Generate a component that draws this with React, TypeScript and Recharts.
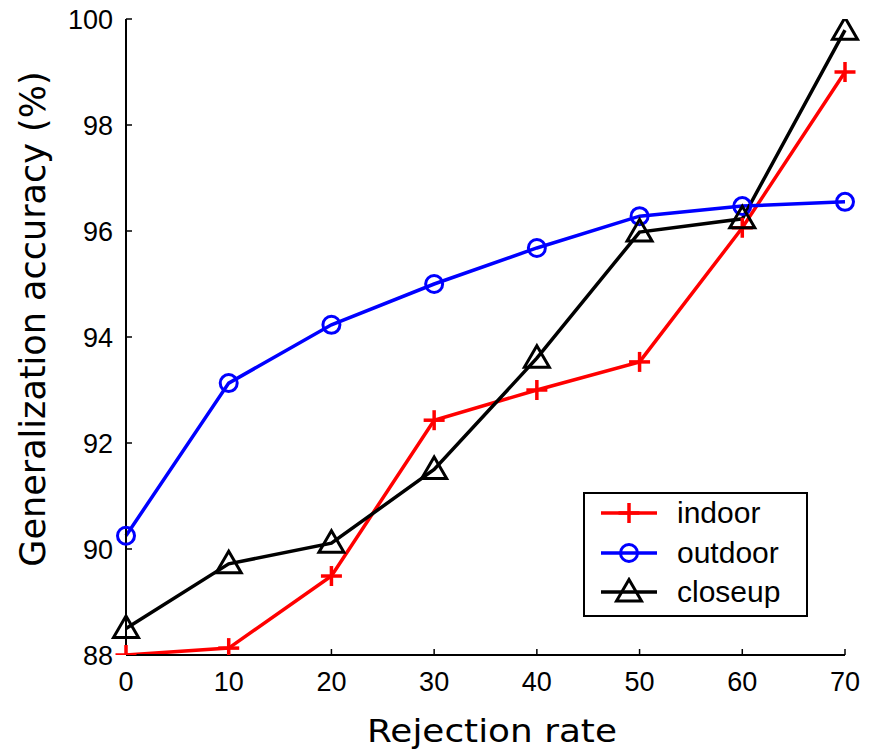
import React from 'react';
import { LineChart, Line, XAxis, YAxis, Legend } from 'recharts';

const rejectionRates = [0, 10, 20, 30, 40, 50, 60, 70];
const indoor = [88.0, 88.13, 89.49, 92.43, 93.0, 93.53, 96.06, 99.0];
const outdoor = [90.25, 93.13, 94.23, 95.0, 95.68, 96.28, 96.47, 96.55];
const closeup = [88.5, 89.72, 90.11, 91.5, 93.6, 95.98, 96.23, 99.79];
const xTicks = [0, 10, 20, 30, 40, 50, 60, 70];
const yTicks = [88, 90, 92, 94, 96, 98, 100];
const seriesNames = ['indoor', 'outdoor', 'closeup'];
const seriesColors = ['#ff0000', '#0000ff', '#000000'];
const xTitle = 'Rejection rate';
const yTitle = 'Generalization accuracy (%)';

const data = rejectionRates.map((r, i) => ({
  rate: r,
  indoor: indoor[i],
  outdoor: outdoor[i],
  closeup: closeup[i],
}));

const TICK_FONT = '"Liberation Sans", Arial, Helvetica, sans-serif';
const LABEL_FONT = '"DejaVu Sans", sans-serif';

const PlusMark = ({ cx, cy, color }: any) => (
  <g>
    <line x1={cx - 10.5} y1={cy} x2={cx + 10.5} y2={cy} stroke={color} strokeWidth={3.5} />
    <line x1={cx} y1={cy - 10} x2={cx} y2={cy + 10} stroke={color} strokeWidth={3.5} />
  </g>
);
const CircleMark = ({ cx, cy, color }: any) => (
  <circle cx={cx} cy={cy} r={8.5} fill="none" stroke={color} strokeWidth={3} />
);
const TriMark = ({ cx, cy, color }: any) => (
  <polygon
    points={`${cx},${cy - 12.5} ${cx - 12.5},${cy + 9} ${cx + 12.5},${cy + 9}`}
    fill="none"
    stroke={color}
    strokeWidth={3}
    strokeLinejoin="miter"
  />
);

const markers = [PlusMark, CircleMark, TriMark];

const makeDot = (idx: number) => (props: any) => {
  const M = markers[idx];
  if (props.cx == null || props.cy == null) return <g key={`${seriesNames[idx]}-${props.index}`} />;
  return (
    <g key={`${seriesNames[idx]}-${props.index}`}>
      <M cx={props.cx} cy={props.cy} color={seriesColors[idx]} />
    </g>
  );
};

const LegendBox = () => (
  <div
    style={{
      position: 'relative',
      width: 225,
      height: 125,
      border: '2px solid #000',
      boxSizing: 'border-box',
      background: '#fff',
    }}
  >
    {seriesNames.map((name, i) => {
      const M = markers[i];
      const cy = 19 + i * 39.5;
      return (
        <div key={name}>
          <svg
            width={80}
            height={30}
            style={{ position: 'absolute', left: 10, top: cy - 15 }}
          >
            <line x1={6} y1={15} x2={62} y2={15} stroke={seriesColors[i]} strokeWidth={3.5} />
            <M cx={34} cy={15} color={seriesColors[i]} />
          </svg>
          <div
            style={{
              position: 'absolute',
              left: 92,
              top: cy - 18,
              height: 36,
              lineHeight: '36px',
              fontFamily: TICK_FONT,
              fontSize: 30,
              color: '#000',
              whiteSpace: 'nowrap',
            }}
          >
            {name}
          </div>
        </div>
      );
    })}
  </div>
);

export default function App() {
  return (
    <div style={{ position: 'absolute', left: 0, top: 0, width: 877, height: 750, background: '#fff' }}>
      <LineChart
        width={877}
        height={750}
        data={data}
        margin={{ top: 19, right: 32, bottom: 35, left: 66 }}
      >
        <XAxis
          dataKey="rate"
          type="number"
          domain={[0, 70]}
          ticks={xTicks}
          height={60}
          axisLine={{ stroke: '#000', strokeWidth: 2 }}
          tickLine={{ stroke: '#000', strokeWidth: 1.5 }}
          tickSize={-6}
          tickMargin={23}
          tick={{ fill: '#000', fontSize: 27, fontFamily: TICK_FONT }}
          interval={0}
        />
        <XAxis
          xAxisId="top"
          dataKey="rate"
          type="number"
          orientation="top"
          domain={[0, 70]}
          ticks={xTicks}
          height={0}
          axisLine={{ stroke: '#000', strokeWidth: 2 }}
          tickLine={{ stroke: '#000', strokeWidth: 1.5 }}
          tickSize={-6}
          tickFormatter={() => ''}
          interval={0}
        />
        <YAxis
          type="number"
          domain={[88, 100]}
          ticks={yTicks}
          width={60}
          axisLine={{ stroke: '#000', strokeWidth: 2 }}
          tickLine={{ stroke: '#000', strokeWidth: 1.5 }}
          tickSize={-6}
          tickMargin={19}
          tick={{ fill: '#000', fontSize: 27, fontFamily: TICK_FONT }}
          interval={0}
          allowDataOverflow
        />
        <YAxis
          yAxisId="right"
          orientation="right"
          type="number"
          domain={[88, 100]}
          ticks={yTicks}
          width={0}
          axisLine={{ stroke: '#000', strokeWidth: 2 }}
          tickLine={{ stroke: '#000', strokeWidth: 1.5 }}
          tickSize={-6}
          tickFormatter={() => ''}
          interval={0}
        />
        <Legend
          layout="vertical"
          align="center"
          verticalAlign="middle"
          content={() => <LegendBox />}
          wrapperStyle={{ position: 'absolute', left: 583, top: 492, width: 225, height: 125 }}
        />
        {seriesNames.map((name, i) => (
          <Line
            key={name}
            type="linear"
            dataKey={name}
            stroke={seriesColors[i]}
            strokeWidth={3.5}
            dot={makeDot(i)}
            activeDot={false}
            isAnimationActive={false}
          />
        ))}
      </LineChart>
      <svg
        width={877}
        height={750}
        style={{ position: 'absolute', left: 0, top: 0, pointerEvents: 'none' }}
      >
        <text
          x={0}
          y={0}
          transform="translate(492 742) scale(1.12 1)"
          textAnchor="middle"
          fontFamily={LABEL_FONT}
          fontSize={32}
          fill="#000"
        >
          {xTitle}
        </text>
        <text
          x={0}
          y={0}
          transform="translate(45 319) rotate(-90)"
          textAnchor="middle"
          fontFamily={LABEL_FONT}
          fontSize={35}
          fill="#000"
        >
          {yTitle}
        </text>
      </svg>
    </div>
  );
}
